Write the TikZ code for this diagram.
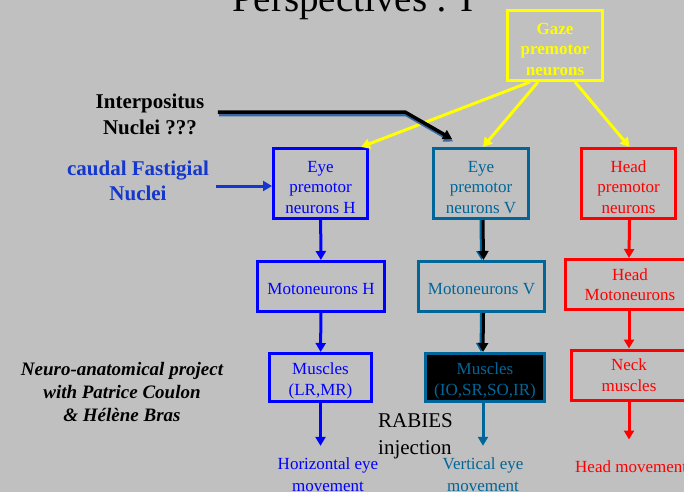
\documentclass[tikz,border=0pt]{standalone}
\usepackage{fontspec}
\setmainfont{Liberation Serif}
\usetikzlibrary{arrows.meta, positioning}
\definecolor{slidegray}{RGB}{192, 192, 192}
\definecolor{gazeyellow}{RGB}{255, 255, 0}
\definecolor{horizblue}{RGB}{0, 0, 255}
\definecolor{vertteal}{RGB}{0, 102, 153}
\definecolor{headred}{RGB}{255, 0, 0}
\definecolor{fastblue}{RGB}{20, 55, 205}
\definecolor{shadowblue}{RGB}{55, 105, 160}
\newcommand{\toppad}{\rule{0pt}{19pt}}

\begin{document}
\begin{tikzpicture}[x=1pt, y=-1pt,
    box/.style={draw, line width=3pt, align=center, inner sep=0pt, font=\fontsize{17}{20.5}\selectfont},
    flow/.style={line width=3pt, -{Triangle[length=9pt, width=10pt]}},
    label/.style={align=center, inner sep=0pt, font=\fontsize{17}{22}\selectfont}]
    \useasboundingbox (0,0) rectangle (684,492);
    \clip (0,0) rectangle (684,492);
    \fill[slidegray] (0,0) rectangle (684,492);

    % Title
    \node[anchor=base, font=\fontsize{39}{39}\selectfont] (title) at (353,12) {Perspectives : I};

    % Gaze premotor neurons
    \node[box, draw=gazeyellow, text=gazeyellow, font=\bfseries\fontsize{17}{20.5}\selectfont, minimum width=95pt, minimum height=70pt] (gaze) at (555,45.5) {\toppad Gaze\\premotor\\neurons};

    % Premotor level
    \node[box, draw=horizblue, text=horizblue, minimum width=94pt, minimum height=70pt] (eyeH) at (320.5,183.5) {\toppad Eye\\premotor\\neurons H};
    \node[box, draw=vertteal, text=vertteal, minimum width=95pt, minimum height=70pt] (eyeV) at (481,183.5) {\toppad Eye\\premotor\\neurons V};
    \node[box, draw=headred, text=headred, minimum width=94pt, minimum height=70pt] (headP) at (628.5,183.5) {\toppad Head\\premotor\\neurons};

    % Motoneuron level
    \node[box, draw=horizblue, text=horizblue, minimum width=127pt, minimum height=50pt] (motH) at (321,286.5) {\rule{0pt}{16.5pt}Motoneurons H};
    \node[box, draw=vertteal, text=vertteal, minimum width=126pt, minimum height=50pt] (motV) at (481.5,286.5) {\rule{0pt}{16.5pt}Motoneurons V};
    \node[box, draw=headred, text=headred, minimum width=130pt, minimum height=50pt] (motHead) at (630,284.5) {Head\\Motoneurons};

    % Muscle level
    \node[box, draw=horizblue, text=horizblue, minimum width=102pt, minimum height=48pt] (musH) at (320.5,377.5) {\toppad Muscles\\(LR,MR)};
    \node[box, draw=vertteal, fill=black, text=vertteal, minimum width=119pt, minimum height=48pt] (musV) at (485,377.5) {\toppad Muscles\\(IO,SR,SO,IR)};
    \node[box, draw=headred, text=headred, minimum width=115pt, minimum height=50pt] (neck) at (629,375) {Neck\\muscles};

    % Movements
    \node[label, text=horizblue] (hmov) at (328,475) {Horizontal eye\\movement};
    \node[label, text=vertteal] (vmov) at (483,475) {Vertical eye\\movement};
    \node[label, text=headred, anchor=west] (headmov) at (575,467) {Head movement};

    % Side texts
    \node[align=center, font=\bfseries\fontsize{21}{26}\selectfont] (ipn) at (150,114) {Interpositus\\Nuclei ???};
    \node[align=center, text=fastblue, font=\bfseries\fontsize{21}{25}\selectfont] (cfn) at (138,181) {caudal Fastigial\\Nuclei};
    \node[align=center, font=\bfseries\itshape\fontsize{19}{23}\selectfont] (project) at (122,392) {Neuro-anatomical project\\with Patrice Coulon\\\& Hélène Bras};
    \node[align=left, anchor=west, inner sep=0pt, font=\fontsize{21}{27}\selectfont] (rabies) at (378,436) {RABIES\\injection};

    % Gaze projections
    \draw[flow, draw=gazeyellow] ([xshift=-25pt]gaze.south) -- ([xshift=-8pt]eyeH.north east);
    \draw[flow, draw=gazeyellow] ([xshift=-17pt]gaze.south) -- ([xshift=2pt]eyeV.north);
    \draw[flow, draw=gazeyellow] ([xshift=20pt]gaze.south) -- ([xshift=1pt]headP.north);

    % Interpositus input (with shadow)
    \coordinate (bend) at (405,112);
    \draw[flow, line width=3.5pt, draw=shadowblue, transform canvas={xshift=1pt, yshift=-2.5pt}] ([xshift=10pt, yshift=2pt]ipn.east) -- (bend) -- ([xshift=20pt, yshift=8pt]eyeV.north west);
    \draw[flow, line width=3.5pt, draw=black] ([xshift=10pt, yshift=2pt]ipn.east) -- (bend) -- ([xshift=20pt, yshift=8pt]eyeV.north west);

    % Fastigial input
    \draw[flow, draw=fastblue] ([xshift=4pt, yshift=-5pt]cfn.east) -- ([yshift=-2.5pt]eyeH.west);

    % Horizontal pathway
    \draw[flow, draw=horizblue] (eyeH) -- (motH);
    \draw[flow, draw=horizblue] (motH) -- (musH);
    \draw[flow, draw=horizblue, shorten >=12pt] (musH) -- (musH |- hmov.north);

    % Vertical pathway (with shadow)
    \draw[flow, draw=vertteal, transform canvas={xshift=-2pt}] ([xshift=2pt]eyeV.south) -- ([xshift=2pt]motV.north);
    \draw[flow, draw=black] ([xshift=2pt]eyeV.south) -- ([xshift=2pt]motV.north);
    \draw[flow, draw=vertteal, transform canvas={xshift=-2pt}] ([xshift=2pt]motV.south) -- ([xshift=-2pt]musV.north);
    \draw[flow, draw=black] ([xshift=2pt]motV.south) -- ([xshift=-2pt]musV.north);
    \draw[flow, draw=vertteal, shorten >=12pt] ([xshift=-2pt]musV.south) -- (vmov.north);

    % Head pathway
    \draw[flow, draw=headred] ([xshift=1pt]headP.south) -- ([xshift=-1pt]motHead.north);
    \draw[flow, draw=headred] ([xshift=-1pt]motHead.south) -- (neck);
    \draw[flow, draw=headred] (neck.south) -- ++(0,38);
\end{tikzpicture}
\end{document}
